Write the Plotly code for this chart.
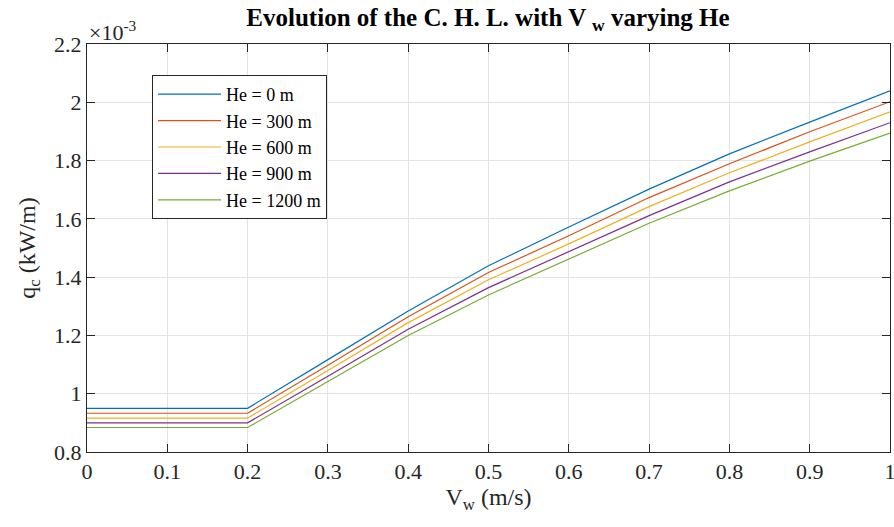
import plotly.graph_objects as go

# Data (q_c in units of 1e-3 kW/m)
v_w = [0.0, 0.1, 0.2, 0.3, 0.4, 0.5, 0.6, 0.7, 0.8, 0.9, 1.0]
series_names = ["He = 0 m", "He = 300 m", "He = 600 m", "He = 900 m", "He = 1200 m"]
q_he0 = [0.950, 0.950, 0.950, 1.117, 1.284, 1.439, 1.572, 1.702, 1.823, 1.932, 2.039]
q_he300 = [0.933, 0.933, 0.933, 1.098, 1.264, 1.416, 1.542, 1.673, 1.789, 1.899, 2.002]
q_he600 = [0.916, 0.916, 0.916, 1.080, 1.244, 1.391, 1.514, 1.642, 1.758, 1.864, 1.967]
q_he900 = [0.900, 0.900, 0.900, 1.060, 1.221, 1.364, 1.487, 1.611, 1.727, 1.830, 1.930]
q_he1200 = [0.884, 0.884, 0.884, 1.042, 1.200, 1.339, 1.462, 1.585, 1.696, 1.798, 1.894]
x_ticks = [0, 0.1, 0.2, 0.3, 0.4, 0.5, 0.6, 0.7, 0.8, 0.9, 1]
x_tick_text = ["0", "0.1", "0.2", "0.3", "0.4", "0.5", "0.6", "0.7", "0.8", "0.9", "1"]
y_ticks = [0.8, 1.0, 1.2, 1.4, 1.6, 1.8, 2.0, 2.2]
y_tick_text = ["0.8", "1", "1.2", "1.4", "1.6", "1.8", "2", "2.2"]

colors = ["#0072BD", "#D95319", "#EDB120", "#7E2F8E", "#77AC30"]
all_series = [q_he0, q_he300, q_he600, q_he900, q_he1200]

FONT = "Liberation Serif, Times New Roman, serif"
AXIS_COLOR = "#262626"

W, H = 894, 527

fig = go.Figure()
for name, ys, c in zip(series_names, all_series, colors):
    fig.add_trace(go.Scatter(x=v_w, y=ys, mode="lines", name=name,
                             line=dict(color=c, width=1.2)))

axis_common = dict(
    showline=True, linecolor=AXIS_COLOR, linewidth=1, mirror="ticks",
    ticks="inside", ticklen=8, tickcolor=AXIS_COLOR, tickwidth=1,
    showgrid=True, gridcolor="#e3e3e3", gridwidth=1, zeroline=False,
    tickfont=dict(family=FONT, size=22, color=AXIS_COLOR),
    automargin=False, ticklabeloverflow="allow",
)

fig.update_layout(
    width=W, height=H,
    margin=dict(l=87, r=4, t=44, b=75),
    paper_bgcolor="white", plot_bgcolor="white",
    font=dict(family=FONT, color=AXIS_COLOR),
    title=dict(text="<b>Evolution of the C. H. L. with V <sub>w</sub> varying He</b>",
               x=488 / W, xanchor="center", y=1 - 17 / H, yanchor="middle",
               font=dict(family=FONT, size=25, color="black")),
    xaxis=dict(range=[0, 1], tickvals=x_ticks, ticktext=x_tick_text,
               ticklabelstandoff=0,
               title=dict(text="V<sub>w</sub> (m/s)", standoff=4,
                          font=dict(family=FONT, size=24, color=AXIS_COLOR)),
               **axis_common),
    yaxis=dict(range=[0.8, 2.2], tickvals=y_ticks, ticktext=y_tick_text,
               ticklabelstandoff=0,
               title=dict(text="q<sub>c</sub> (kW/m)", standoff=11,
                          font=dict(family=FONT, size=24, color=AXIS_COLOR)),
               **axis_common),
    legend=dict(x=0.081, y=0.924, xanchor="left", yanchor="top",
                bgcolor="white", bordercolor="#262626", borderwidth=1,
                font=dict(family=FONT, size=18, color="black"),
                tracegroupgap=0, itemwidth=63),
    showlegend=True,
)

fig.add_annotation(text="×10<sup>-3</sup>", xref="paper", yref="paper",
                   x=0.0, y=1.0, xanchor="left", yanchor="bottom", yshift=-3,
                   showarrow=False, font=dict(family=FONT, size=22, color=AXIS_COLOR))

fig.write_html("out.html",
               config={"displayModeBar": False},
               post_script="document.body.style.margin='0';"
                           "document.body.style.overflow='hidden';")
